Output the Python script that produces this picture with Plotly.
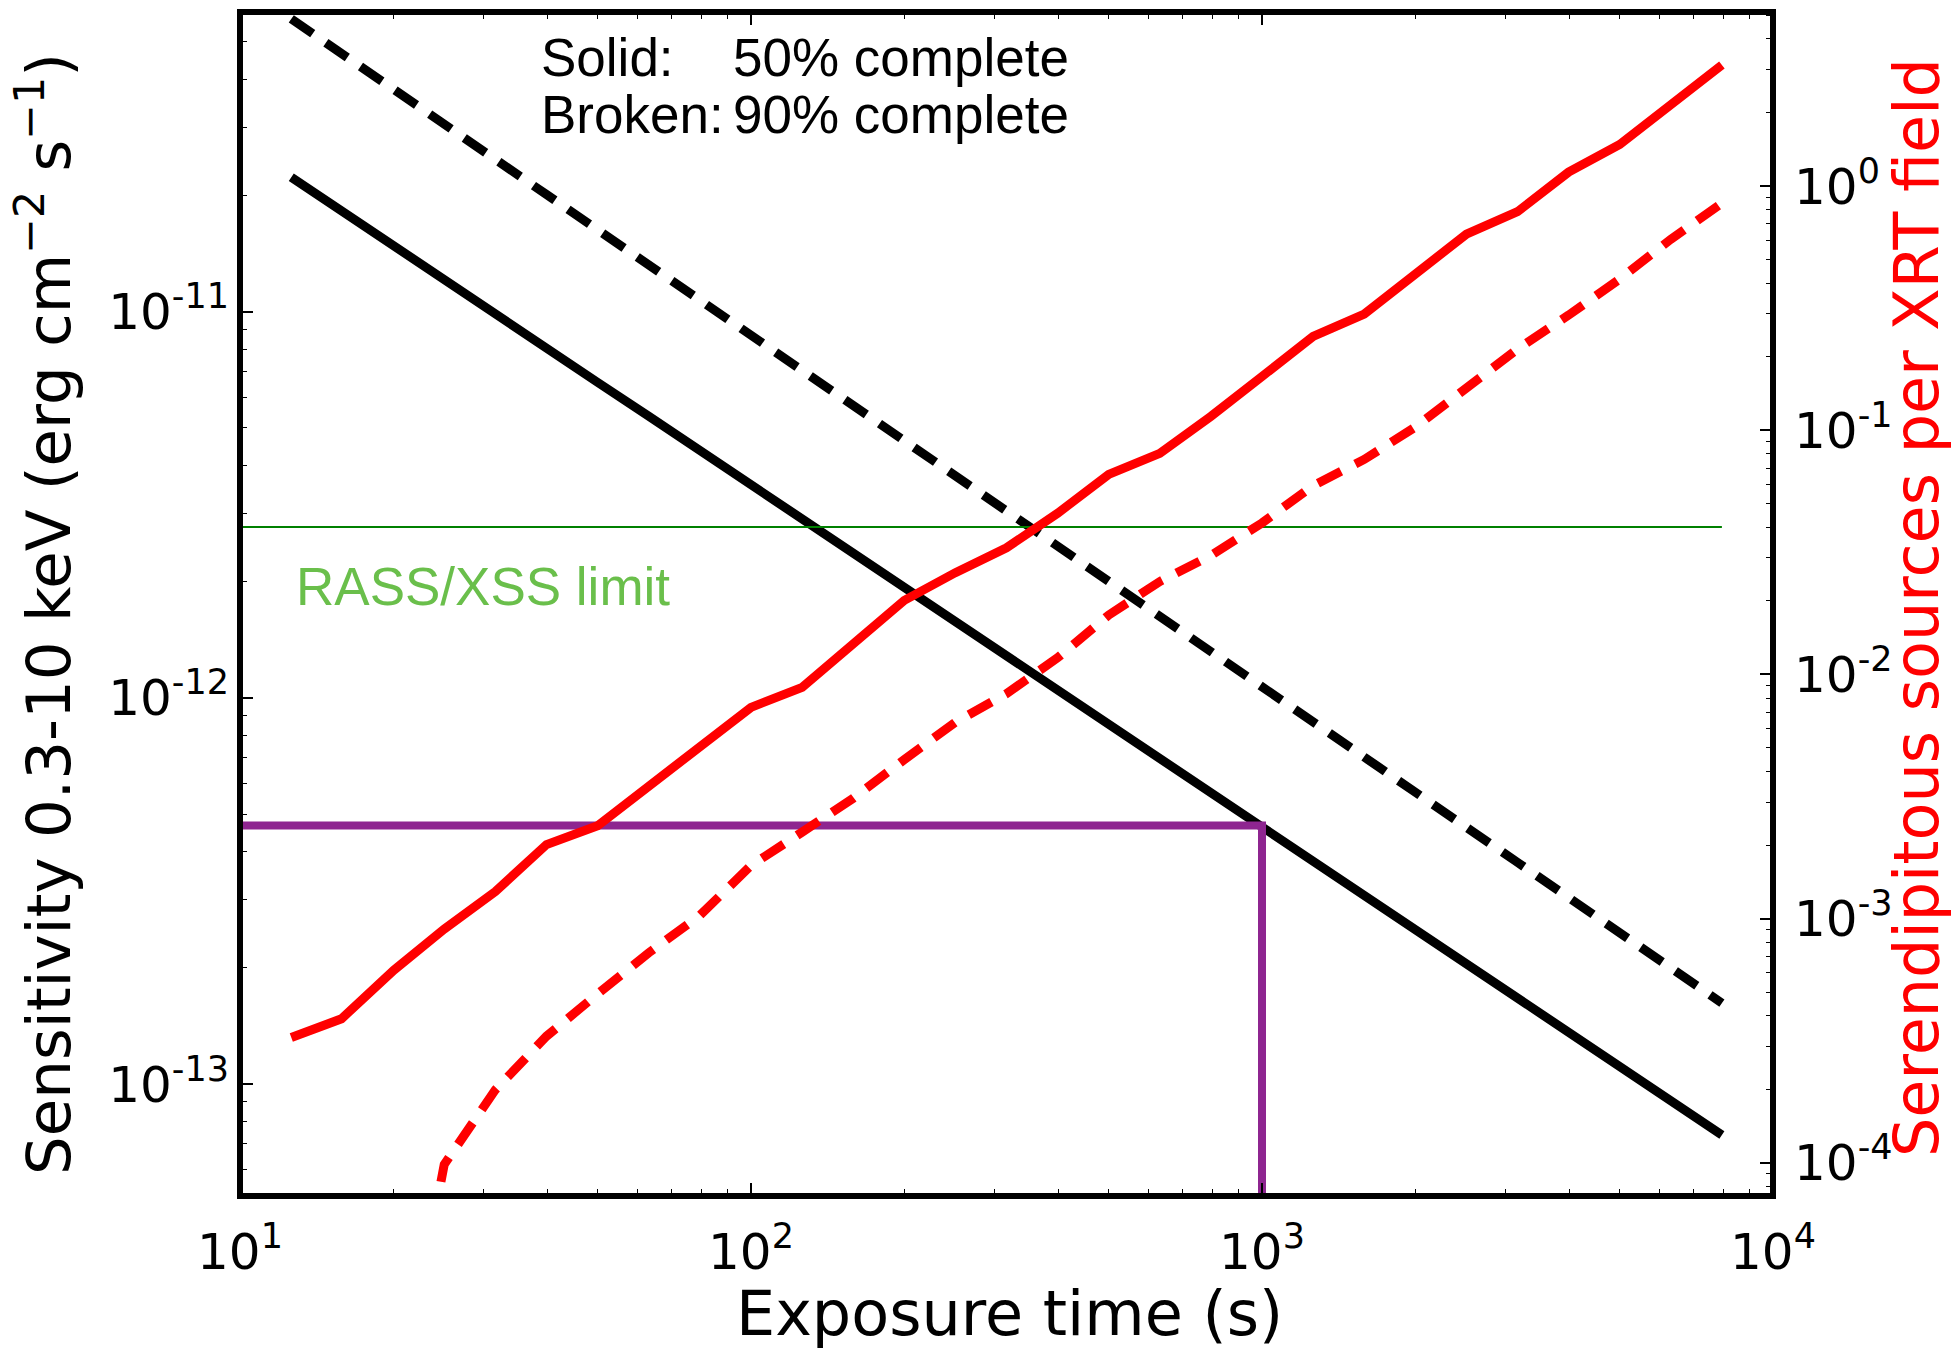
import plotly.graph_objects as go

# ---------------- data ----------------
exposure = [12.6, 15.8, 20.0, 25.1, 31.6, 39.8, 50.1, 63.1, 79.4, 100.0,
            125.9, 158.5, 199.5, 251.2, 316.2, 398.1, 501.2, 631.0, 794.3, 1000.0,
            1258.9, 1584.9, 1995.3, 2511.9, 3162.3, 3981.1, 5011.9, 6309.6, 7943.3]

sens_50 = [2.23e-11, 1.82e-11, 1.49e-11, 1.21e-11, 9.89e-12, 8.05e-12, 6.56e-12, 5.36e-12,
           4.37e-12, 3.56e-12, 2.90e-12, 2.37e-12, 1.93e-12, 1.57e-12, 1.29e-12, 1.05e-12,
           8.53e-13, 6.97e-13, 5.68e-13, 4.63e-13, 3.78e-13, 3.08e-13, 2.51e-13, 2.05e-13,
           1.67e-13, 1.36e-13, 1.11e-13, 9.06e-14, 7.38e-14]

sens_90 = [5.73e-11, 4.65e-11, 3.77e-11, 3.05e-11, 2.48e-11, 2.01e-11, 1.63e-11, 1.32e-11,
           1.07e-11, 8.69e-12, 7.05e-12, 5.71e-12, 4.63e-12, 3.76e-12, 3.05e-12, 2.47e-12,
           2.00e-12, 1.63e-12, 1.32e-12, 1.07e-12, 8.67e-13, 7.03e-13, 5.70e-13, 4.62e-13,
           3.75e-13, 3.04e-13, 2.47e-13, 2.00e-13, 1.62e-13]

serendip_50 = [3.26e-4, 3.89e-4, 6.15e-4, 9.06e-4, 1.29e-3, 2.01e-3, 2.40e-3, 3.46e-3,
               5.04e-3, 7.33e-3, 8.85e-3, 1.33e-2, 2.01e-2, 2.61e-2, 3.30e-2, 4.57e-2,
               6.59e-2, 8.04e-2, 0.114, 0.166, 0.242, 0.299, 0.436, 0.635,
               0.785, 1.14, 1.48, 2.13, 3.13]

exposure_90 = exposure[2:]
serendip_90 = [8.1e-6, 9.84e-5, 1.99e-4, 3.30e-4, 4.92e-4, 7.25e-4, 1.03e-3, 1.65e-3,
               2.26e-3, 3.11e-3, 4.48e-3, 6.37e-3, 8.34e-3, 1.17e-2, 1.75e-2, 2.40e-2,
               3.07e-2, 4.17e-2, 5.93e-2, 7.59e-2, 0.103, 0.148, 0.215, 0.296,
               0.416, 0.605, 0.851]

rass_x = [10.0, 7943.3]
rass_y = [2.77e-12, 2.77e-12]

purple_x = [10.0, 1000.0, 1000.0]
purple_y = [4.67e-13, 4.67e-13, 5.0e-14]

x_tickvals = [1e1, 1e2, 1e3, 1e4]
x_ticktext = ["10<sup>1</sup>", "10<sup>2</sup>", "10<sup>3</sup>", "10<sup>4</sup>"]
y_tickvals = [1e-13, 1e-12, 1e-11]
y_ticktext = ["10<sup>-13</sup>", "10<sup>-12</sup>", "10<sup>-11</sup>"]
y2_tickvals = [1e-4, 1e-3, 1e-2, 1e-1, 1e0]
y2_ticktext = ["10<sup>-4</sup>", "10<sup>-3</sup>", "10<sup>-2</sup>", "10<sup>-1</sup>", "10<sup>0</sup>"]


def minor_vals(lo, hi):
    out = []
    for e in range(lo, hi):
        for m in range(2, 10):
            out.append(m * 10.0 ** e)
    return out


# ---------------- figure ----------------
W, H = 1953, 1349
L, R, T, B = 240, 1773, 12, 1196  # plot-area pixel edges
LW = 9
DASH = "26px,16px"

fig = go.Figure()

fig.add_trace(go.Scatter(x=exposure, y=sens_90, mode="lines",
                         line=dict(color="black", width=LW, dash=DASH), yaxis="y"))
fig.add_trace(go.Scatter(x=exposure, y=sens_50, mode="lines",
                         line=dict(color="black", width=LW), yaxis="y"))
fig.add_trace(go.Scatter(x=rass_x, y=rass_y, mode="lines",
                         line=dict(color="#008000", width=2), yaxis="y"))
fig.add_trace(go.Scatter(x=purple_x, y=purple_y, mode="lines",
                         line=dict(color="#8E2590", width=8), yaxis="y"))
fig.add_trace(go.Scatter(x=exposure, y=serendip_50, mode="lines",
                         line=dict(color="#FF0000", width=LW), yaxis="y2"))
fig.add_trace(go.Scatter(x=exposure_90, y=serendip_90, mode="lines",
                         line=dict(color="#FF0000", width=LW, dash=DASH), yaxis="y2"))

tickfont = dict(family="DejaVu Sans", size=50, color="black")
common = dict(type="log", showgrid=False, zeroline=False, showline=False, automargin=False,
              ticks="inside", ticklen=13, tickwidth=1.5, tickcolor="black",
              tickfont=tickfont, tickmode="array")

fig.update_layout(
    width=W, height=H,
    margin=dict(l=L, r=W - R, t=T, b=H - B, pad=0, autoexpand=False),
    plot_bgcolor="white", paper_bgcolor="white",
    showlegend=False,
    xaxis=dict(range=[1, 4], tickvals=x_tickvals, ticktext=x_ticktext,
               mirror="ticks", ticklabelstandoff=22,
               minor=dict(ticks="inside", ticklen=7, tickwidth=1.2, tickcolor="black",
                          tickmode="array", tickvals=minor_vals(1, 4)),
               **common),
    yaxis=dict(range=[-13.290, -10.224], tickvals=y_tickvals, ticktext=y_ticktext,
               ticklabelstandoff=10,
               minor=dict(ticks="inside", ticklen=7, tickwidth=1.2, tickcolor="black",
                          tickmode="array", tickvals=minor_vals(-14, -10)),
               **common),
    yaxis2=dict(range=[-4.136, 0.7126], tickvals=y2_tickvals, ticktext=y2_ticktext,
                overlaying="y", side="right", anchor="x", ticklabelstandoff=20,
                minor=dict(ticks="inside", ticklen=7, tickwidth=1.2, tickcolor="black",
                           tickmode="array", tickvals=minor_vals(-5, 1)),
                **common),
)

# frame
fig.add_shape(type="rect", xref="paper", yref="paper", x0=0, x1=1, y0=0, y1=1,
              line=dict(color="black", width=6), layer="above")


def px_x(p):
    return (p - L) / (R - L)


def px_y(p):
    return (B - p) / (B - T)


text_font = dict(family="Liberation Sans", size=53, color="black")
annots = [
    dict(text="Solid:", x=px_x(539), y=px_y(57), xanchor="left", yanchor="middle", font=text_font),
    dict(text="50% complete", x=px_x(731), y=px_y(57), xanchor="left", yanchor="middle", font=text_font),
    dict(text="Broken:", x=px_x(539), y=px_y(114), xanchor="left", yanchor="middle", font=text_font),
    dict(text="90% complete", x=px_x(731), y=px_y(114), xanchor="left", yanchor="middle", font=text_font),
    dict(text="RASS/XSS limit", x=px_x(294), y=px_y(586), xanchor="left", yanchor="middle",
         font=dict(family="Liberation Sans", size=53, color="#6ABF4B")),
    dict(text="Exposure time (s)", x=px_x(1009), y=px_y(1313), xanchor="center", yanchor="middle",
         borderpad=0, font=dict(family="DejaVu Sans", size=62, color="black")),
    dict(text="Sensitivity 0.3-10 keV (erg cm<sup>\u22122</sup> s<sup>\u22121</sup>)",
         x=px_x(44), y=px_y(614), xanchor="center", yanchor="middle", textangle=-90,
         borderpad=0, font=dict(family="DejaVu Sans", size=61, color="black")),
    dict(text="Serendipitous sources per XRT field",
         x=px_x(1916), y=px_y(608), xanchor="center", yanchor="middle", textangle=-90,
         borderpad=0, font=dict(family="DejaVu Sans", size=62, color="#FF0000")),
]
for a in annots:
    a.update(xref="paper", yref="paper", showarrow=False)
    fig.add_annotation(**a)

# remove the default 8px body margin so figure pixels map 1:1 to the window
fig.write_html("out.html", config={"displayModeBar": False},
               post_script="document.body.style.margin='0px';")
